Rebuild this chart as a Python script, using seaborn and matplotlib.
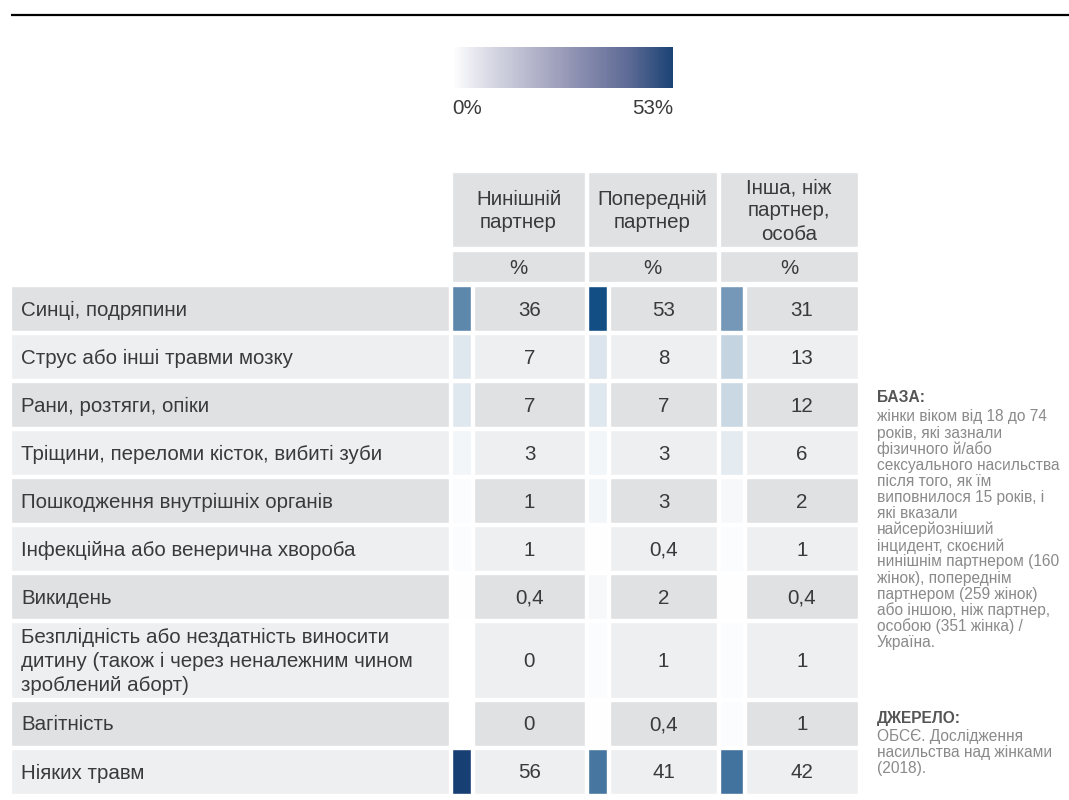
import numpy as np
import matplotlib
matplotlib.use("Agg")
import matplotlib.pyplot as plt
from matplotlib.colors import LinearSegmentedColormap, Normalize
import seaborn as sns

# --- data ---
categories = [
    "Синці, подряпини",
    "Струс або інші травми мозку",
    "Рани, розтяги, опіки",
    "Тріщини, переломи кісток, вибиті зуби",
    "Пошкодження внутрішніх органів",
    "Інфекційна або венерична хвороба",
    "Викидень",
    "Безплідність або нездатність виносити\nдитину (також і через неналежним чином\nзроблений аборт)",
    "Вагітність",
    "Ніяких травм",
]
current_partner = [36, 7, 7, 3, 1, 1, 0.4, 0, 0, 56]
previous_partner = [53, 8, 7, 3, 3, 0.4, 2, 1, 0.4, 41]
other_person = [31, 13, 12, 6, 2, 1, 0.4, 1, 1, 42]
series = [current_partner, previous_partner, other_person]
col_headers = ["Нинішній\nпартнер", "Попередній\nпартнер", "Інша, ніж\nпартнер,\nособа"]
legend_min, legend_max = 0, 53

note_lines = [
    "жінки віком від 18 до 74", "років, які зазнали", "фізичного й/або",
    "сексуального насильства", "після того, як їм", "виповнилося 15 років, і",
    "які вказали", "найсерйозніший", "інцидент, скоєний",
    "нинішнім партнером (160", "жінок), попереднім", "партнером (259 жінок)",
    "або іншою, ніж партнер,", "особою (351 жінка) /", "Україна.",
]
source_lines = ["ОБСЄ. Дослідження", "насильства над жінками", "(2018)."]

# --- style ---
sns.set_theme(style="white")
plt.rcParams["font.family"] = ["Liberation Sans", "DejaVu Sans"]
TXT = "#3a3a3a"
NOTE = "#8a8a8a"
DARK = "#dfe1e3"
LIGHT = "#eeeff1"
FS = 14.8
NFS = 11.2

swatch_cmap = LinearSegmentedColormap.from_list(
    "sw", [(0, "#ffffff"), (53 / 56, "#124f85"), (1, "#173f73")])
swatch_norm = Normalize(0, 56)
legend_cmap = LinearSegmentedColormap.from_list(
    "lg", [(0, "#ffffff"), (0.15, "#dcdde7"), (0.5, "#9a9cb9"),
           (0.8, "#5d6a95"), (1, "#1b4374")])

fig = plt.figure(figsize=(10.69, 8), dpi=100)
ax = fig.add_axes([0, 0, 1, 1])
ax.set_xlim(0, 1069)
ax.set_ylim(800, 0)
ax.axis("off")

# top rule
ax.plot([11, 1069], [15, 15], color="black", lw=1.6, solid_capstyle="butt")

# layout (pixels)
label_x0, label_x1 = 11, 449
swatch_cols = [(452, 471), (588, 607), (720, 743)]
value_cols = [(474, 585), (610, 717), (746, 858)]
header_cols = [(452, 585), (588, 717), (720, 858)]

# header cells
for (x0, x1), h in zip(header_cols, col_headers):
    ax.barh(209.5, x1 - x0, left=x0, height=75, color=DARK, align="center")
    ax.text((x0 + x1) / 2, 211, h, ha="center", va="center", fontsize=FS,
            color=TXT, linespacing=1.3)
    ax.barh(266.5, x1 - x0, left=x0, height=31, color=DARK, align="center")
    ax.text((x0 + x1) / 2, 268, "%", ha="center", va="center", fontsize=FS, color=TXT)

# data rows
row_lines = [c.count("\n") + 1 for c in categories]
y = 286
for i, cat in enumerate(categories):
    h = 45 + (row_lines[i] - 1) * 15.5
    yc = y + h / 2
    bg = DARK if i % 2 == 0 else LIGHT
    ax.barh(yc, label_x1 - label_x0, left=label_x0, height=h, color=bg)
    ax.text(21, yc + 1.5, cat, ha="left", va="center", fontsize=FS,
            color=TXT, linespacing=1.3)
    for s, (sx0, sx1), (vx0, vx1) in zip(series, swatch_cols, value_cols):
        v = s[i]
        ax.barh(yc, sx1 - sx0, left=sx0, height=h, color=swatch_cmap(swatch_norm(v)))
        ax.barh(yc, vx1 - vx0, left=vx0, height=h, color=bg)
        ax.text((vx0 + vx1) / 2, yc + 1.5, f"{v:g}".replace(".", ","),
                ha="center", va="center", fontsize=FS, color=TXT)
    y += h + 3

# legend gradient
cax = fig.add_axes([452 / 1069, 1 - 88 / 800, (673 - 452) / 1069, 41 / 800])
sns.heatmap(np.linspace(legend_min, legend_max, 256)[None, :], cmap=legend_cmap,
            cbar=False, xticklabels=False, yticklabels=False, ax=cax)
cax.axis("off")
ax.text(452, 108, f"{legend_min}%", ha="left", va="center", fontsize=FS, color=TXT)
ax.text(673, 108, f"{legend_max}%", ha="right", va="center", fontsize=FS, color=TXT)

# side notes
nx = 877
ax.text(nx, 398, "БАЗА:", ha="left", va="center", fontsize=NFS,
        fontweight="bold", color="#555555")
for k, line in enumerate(note_lines):
    ax.text(nx, 417 + k * 16.1, line, ha="left", va="center", fontsize=NFS, color=NOTE)
ax.text(nx, 718, "ДЖЕРЕЛО:", ha="left", va="center", fontsize=NFS,
        fontweight="bold", color="#555555")
for k, line in enumerate(source_lines):
    ax.text(nx, 736 + k * 16.1, line, ha="left", va="center", fontsize=NFS, color=NOTE)

fig.savefig("out.png", dpi=100)
